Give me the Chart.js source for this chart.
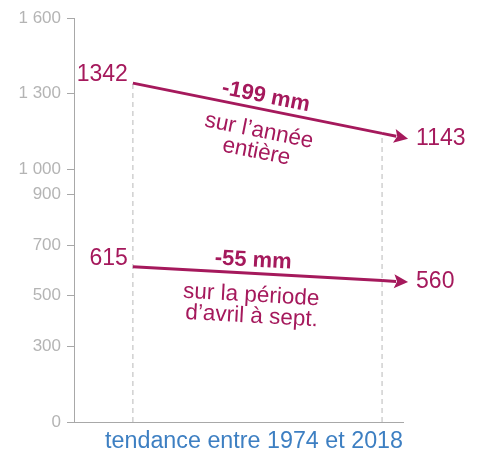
<!DOCTYPE html>
<html><head><meta charset="utf-8">
<script src="https://cdn.jsdelivr.net/npm/chart.js@4"></script>
<style>html,body{margin:0;padding:0;background:#fff}#wrap{width:483px;height:456px}</style>
</head><body><div id="wrap"><canvas id="c" width="483" height="456"></canvas></div>
<script>
const years = [1974, 2018];
const annualValues = [1342, 1143];
const summerValues = [615, 560];
const periodLabels = [["sur l’année", "entière"], ["sur la période", "d’avril à sept."]];
const yTickValues = [0, 300, 500, 700, 900, 1000, 1300, 1600];
const yTickLabels = ["0", "300", "500", "700", "900", "1 000", "1 300", "1 600"];
const xAxisTitle = "tendance entre 1974 et 2018";

const FONT = '"Liberation Sans", Arial, Helvetica, sans-serif';
const MAGENTA = '#a5195c';
const GRAY = '#b4b4b4';
const BLUE = '#3d7fc2';

const trendSeries = [annualValues, summerValues];
const trendDatasets = trendSeries.map((vals, i) => ({
  label: 'trend' + i,
  data: years.map((y, j) => ({x: y, y: vals[j]})),
  borderColor: MAGENTA, borderWidth: 3, pointRadius: 0, fill: false,
  order: 0, borderCapStyle: 'butt'
}));
const guideDatasets = years.map((y, j) => ({
  label: 'guide' + j,
  data: [{x: y, y: 0}, {x: y, y: Math.max(...trendSeries.map(s => s[j]))}],
  borderColor: '#b8b8b8', borderWidth: 1, borderDash: [5, 4], pointRadius: 0, fill: false,
  order: 5
}));

const arrowPlugin = {
  id: 'arrows',
  afterDatasetsDraw(chart) {
    const ctx = chart.ctx;
    const uOffsets = [6, -5];
    trendSeries.forEach((vals, i) => {
      const meta = chart.getDatasetMeta(i);
      const p0 = meta.data[0], p1 = meta.data[1];
      const dx = p1.x - p0.x, dy = p1.y - p0.y;
      const len = Math.hypot(dx, dy);
      const ux = dx / len, uy = dy / len;
      const t = 26 / ux;
      const tip = {x: p1.x + ux * t, y: p1.y + uy * t};
      const headLen = 14, headW = 7;
      const base = {x: tip.x - ux * headLen, y: tip.y - uy * headLen};
      ctx.save();
      ctx.strokeStyle = MAGENTA; ctx.fillStyle = MAGENTA; ctx.lineWidth = 3;
      ctx.beginPath(); ctx.moveTo(p1.x, p1.y); ctx.lineTo(base.x + ux * 2, base.y + uy * 2); ctx.stroke();
      ctx.beginPath();
      ctx.moveTo(tip.x, tip.y);
      ctx.lineTo(base.x - uy * headW, base.y + ux * headW);
      ctx.lineTo(base.x + ux * 3, base.y + uy * 3);
      ctx.lineTo(base.x + uy * headW, base.y - ux * headW);
      ctx.closePath(); ctx.fill();
      // value labels
      ctx.font = '23px ' + FONT;
      ctx.textAlign = 'right'; ctx.textBaseline = 'alphabetic';
      ctx.fillText(String(vals[0]), p0.x - 5, p0.y - 2);
      ctx.textAlign = 'left'; ctx.textBaseline = 'middle';
      ctx.fillText(String(vals[1]), tip.x + 8, tip.y);
      // annotations
      const mx = (p0.x + p1.x) / 2, my = (p0.y + p1.y) / 2;
      const ang = Math.atan2(dy, dx);
      ctx.translate(mx, my); ctx.rotate(ang);
      ctx.textAlign = 'center'; ctx.textBaseline = 'middle';
      ctx.font = 'bold 22px ' + FONT;
      const delta = vals[1] - vals[0];
      ctx.fillText((delta < 0 ? '-' : '+') + Math.abs(delta) + ' mm', uOffsets[i], -13);
      ctx.font = '22.5px ' + FONT;
      periodLabels[i].forEach((line, k) => {
        ctx.fillText(line, uOffsets[i] + k * 1.5, 22 + k * 21);
      });
      ctx.restore();
    });
  }
};

new Chart(document.getElementById('c'), {
  type: 'line',
  data: {datasets: [...trendDatasets, ...guideDatasets]},
  options: {
    responsive: false, animation: false, devicePixelRatio: 1,
    layout: {padding: {top: 18, right: 80, bottom: 0, left: 0}},
    plugins: {legend: {display: false}, tooltip: {enabled: false}},
    scales: {
      x: {
        type: 'linear', min: 1963.6, max: 2021.7,
        grid: {display: false},
        border: {display: true, color: '#a8a8a8', width: 1},
        ticks: {display: false},
        title: {display: true, text: xAxisTitle, color: BLUE, align: 'end',
          font: {family: FONT, size: 23.3, lineHeight: 1.2}, padding: {top: 0, bottom: 0}},
        afterFit(s) { s.height = 34; }
      },
      y: {
        type: 'linear', min: 0, max: 1600,
        afterBuildTicks(s) { s.ticks = yTickValues.map(v => ({value: v})); },
        ticks: {
          color: GRAY, padding: 6, autoSkip: false,
          font: {family: FONT, size: 17},
          callback(v) { const k = yTickValues.indexOf(v); return k >= 0 ? yTickLabels[k] : ''; }
        },
        grid: {drawOnChartArea: false, drawTicks: true, tickLength: 7, color: '#a8a8a8'},
        border: {display: true, color: '#a8a8a8', width: 1},
        afterFit(s) { s.width = 74; }
      }
    }
  },
  plugins: [arrowPlugin]
});
</script></body></html>
